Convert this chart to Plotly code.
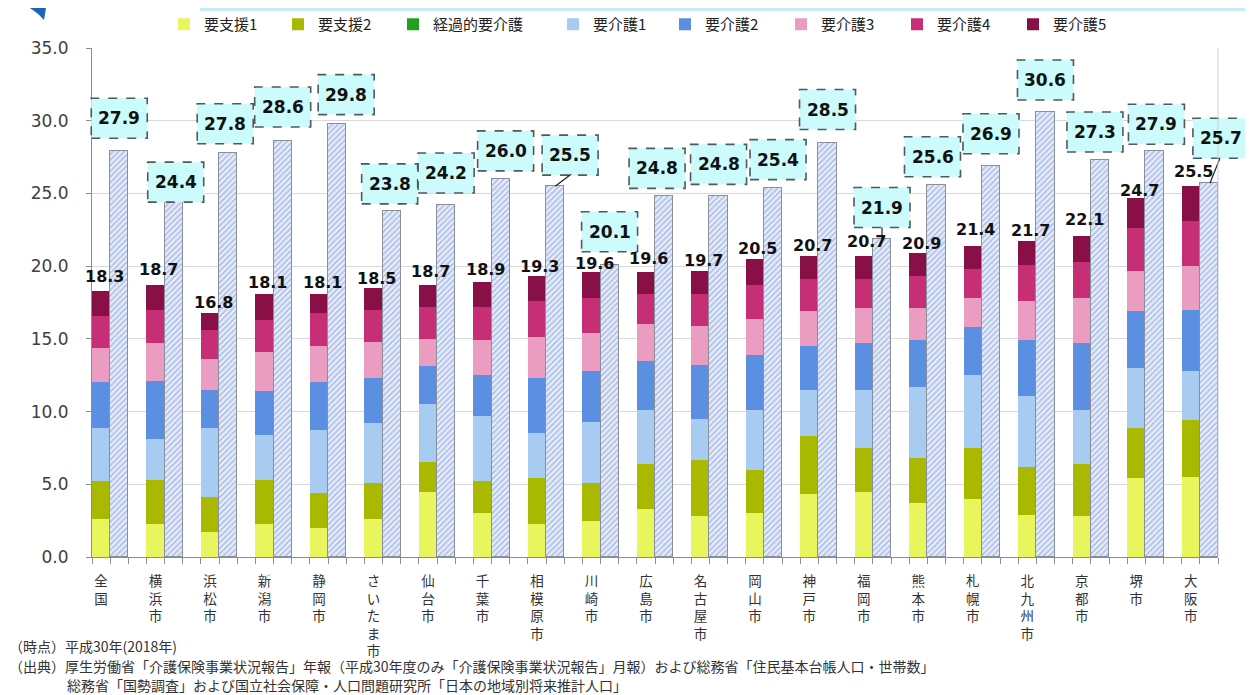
import plotly.graph_objects as go

# ---------------- data ----------------
cities = ["全国", "横浜市", "浜松市", "新潟市", "静岡市", "さいたま市", "仙台市", "千葉市",
          "相模原市", "川崎市", "広島市", "名古屋市", "岡山市", "神戸市", "福岡市", "熊本市",
          "札幌市", "北九州市", "京都市", "堺市", "大阪市"]

series_names = ["要支援1", "要支援2", "経過的要介護", "要介護1", "要介護2", "要介護3", "要介護4", "要介護5"]

shien1 = [2.6, 2.3, 1.7, 2.3, 2.0, 2.6, 4.5, 3.0, 2.3, 2.5, 3.3, 2.8, 3.0, 4.3, 4.5, 3.7, 4.0, 2.9, 2.8, 5.4, 5.5]
shien2 = [2.6, 3.0, 2.4, 3.0, 2.4, 2.5, 2.0, 2.2, 3.1, 2.6, 3.1, 3.9, 3.0, 4.0, 3.0, 3.1, 3.5, 3.3, 3.6, 3.5, 3.9]
keika  = [0.0, 0.0, 0.0, 0.0, 0.0, 0.0, 0.0, 0.0, 0.0, 0.0, 0.0, 0.0, 0.0, 0.0, 0.0, 0.0, 0.0, 0.0, 0.0, 0.0, 0.0]
kaigo1 = [3.7, 2.8, 4.8, 3.1, 4.3, 4.1, 4.0, 4.5, 3.1, 4.2, 3.7, 2.8, 4.1, 3.2, 4.0, 4.9, 5.0, 4.9, 3.7, 4.1, 3.4]
kaigo2 = [3.1, 4.0, 2.6, 3.0, 3.3, 3.1, 2.6, 2.8, 3.8, 3.5, 3.4, 3.7, 3.8, 3.0, 3.2, 3.2, 3.3, 3.8, 4.6, 3.9, 4.2]
kaigo3 = [2.4, 2.6, 2.1, 2.7, 2.5, 2.5, 1.9, 2.4, 2.8, 2.6, 2.5, 2.7, 2.5, 2.4, 2.4, 2.2, 2.0, 2.7, 3.1, 2.8, 3.0]
kaigo4 = [2.2, 2.3, 2.0, 2.2, 2.3, 2.2, 2.2, 2.3, 2.5, 2.4, 2.1, 2.2, 2.3, 2.2, 2.0, 2.2, 2.0, 2.5, 2.5, 2.9, 3.1]
kaigo5 = [1.7, 1.7, 1.2, 1.8, 1.3, 1.5, 1.5, 1.7, 1.7, 1.8, 1.5, 1.6, 1.8, 1.6, 1.6, 1.6, 1.6, 1.6, 1.8, 2.1, 2.4]

projected = [27.9, 24.4, 27.8, 28.6, 29.8, 23.8, 24.2, 26.0, 25.5, 20.1, 24.8, 24.8, 25.4, 28.5,
             21.9, 25.6, 26.9, 30.6, 27.3, 27.9, 25.7]

y_ticks = [0, 5, 10, 15, 20, 25, 30, 35]

footer_lines = [
    "（時点）平成30年(2018年)",
    "（出典）厚生労働省「介護保険事業状況報告」年報（平成30年度のみ「介護保険事業状況報告」月報）および総務省「住民基本台帳人口・世帯数」",
    "総務省「国勢調査」および国立社会保障・人口問題研究所「日本の地域別将来推計人口」",
]

# ---------------- styles / layout helpers ----------------
colors = ["#e9f55c", "#a9b900", "#1fa01f", "#a8cbf1", "#5b8fe2", "#eb9dc1", "#c62f76", "#891047"]
series = [shien1, shien2, keika, kaigo1, kaigo2, kaigo3, kaigo4, kaigo5]

# the page body has an 8px margin, so the figure sits at (8, 8) in the window
OFF = 8
W, H = 1253 - OFF, 695 - OFF
ML, MT = 92 - OFF, 48 - OFF
MR = W - (1218 - OFF)
MB = H - (557 - OFF)
PW, PH = W - ML - MR, H - MT - MB

def px(xp):  # page pixel -> paper x
    return (xp - OFF - ML) / PW

def py(yp):  # page pixel -> paper y
    return (H - MB - (yp - OFF)) / PH

n = len(cities)
NSLOT = 3 * n - 1                     # stacked, projected, gap ... (no trailing gap)
x_stack = [3 * i for i in range(n)]
x_proj = [3 * i + 1 for i in range(n)]
totals = [round(sum(s[i] for s in series), 1) for i in range(n)]

def xpaper(x):  # x-axis value -> paper x
    return (x + 0.5) / NSLOT

NUM_FONT = "DejaVu Sans"
JP_FONT = "Noto Sans CJK JP"

# legend square centres (page pixels)
legend_sq_x = [188, 302, 417, 577, 689, 805, 921, 1037]
LEG_OFF = 24

fig = go.Figure()
legend_layouts = {}
for k, (name, vals, col) in enumerate(zip(series_names, series, colors)):
    lname = "legend" if k == 0 else f"legend{k + 1}"
    fig.add_trace(go.Bar(
        x=x_stack, y=vals, name=name, width=1.0, legend=lname,
        marker=dict(color=col, line=dict(width=0)),
        hoverinfo="y+name",
    ))
    legend_layouts[lname] = dict(
        orientation="h", x=px(legend_sq_x[k] - LEG_OFF), xanchor="left",
        y=py(OFF), yanchor="top", bgcolor="rgba(0,0,0,0)",
        font=dict(family=JP_FONT, size=15, color="#222222"), itemwidth=30,
    )

fig.add_trace(go.Bar(
    x=x_proj, y=projected, width=1.0, showlegend=False, name="推計",
    marker=dict(color="#e6edf9",
                line=dict(color="#8a8f99", width=1),
                pattern=dict(shape="/", fgcolor="#7592d2", bgcolor="#e8eefa", size=4, solidity=0.45)),
))

# label offsets (pixels)
tot_dy = [14, 16, 10, 11, 11, 9, 14, 13, 10, 8, 13, 10, 10, 10, 14, 10, 16, 11, 16, 7, 15]
box_dy = [33, 20, 29, 34, 29, 27, 32, 28, 31, 33, 28, 32, 28, 33, 31, 28, 32, 32, 28, 27, 45]
box_dx = [0, 2, -3, 0, 9, -2, 0, 5, 15, 0, -7, 0, 5, 0, 0, -4, 0, 0, -5, 2, 12]
BW, BH = 56, 40

annotations = []
shapes = []
for i in range(n):
    annotations.append(dict(
        x=x_stack[i], y=totals[i], xref="x", yref="y", text=f"<b>{totals[i]:.1f}</b>",
        showarrow=False, yanchor="middle", xanchor="center", xshift=3, yshift=tot_dy[i],
        font=dict(family=NUM_FONT, size=16, color="#111111"),
    ))
    dx, dy = box_dx[i], box_dy[i]
    shapes.append(dict(
        type="rect", xref="paper", yref="y", xsizemode="pixel", ysizemode="pixel",
        xanchor=xpaper(x_proj[i]), yanchor=projected[i],
        x0=dx - BW / 2, x1=dx + BW / 2, y0=dy - BH / 2, y1=dy + BH / 2,
        fillcolor="#ccfbfb", line=dict(color="#4d5a5e", width=1.6, dash="dash"), layer="above",
    ))
    annotations.append(dict(
        x=x_proj[i], y=projected[i], xref="x", yref="y", text=f"<b>{projected[i]:.1f}</b>",
        showarrow=False, yanchor="middle", xanchor="center", xshift=dx, yshift=dy,
        font=dict(family=NUM_FONT, size=17, color="#111111"),
    ))

# leader lines (相模原, 福岡, 大阪)
leaders = {8: (0, 0, 16, 12), 14: (0, 0, 0, 11), 20: (1, 0, 11, 25)}
for i, (a0, b0, a1, b1) in leaders.items():
    shapes.append(dict(
        type="line", xref="paper", yref="y", xsizemode="pixel", ysizemode="pixel",
        xanchor=xpaper(x_proj[i]), yanchor=projected[i], x0=a0, x1=a1, y0=b0, y1=b1,
        line=dict(color="#222222", width=1.2), layer="above",
    ))

# plot-area right border and top decoration
shapes.append(dict(type="line", xref="paper", yref="paper", x0=1, x1=1, y0=0, y1=1,
                   line=dict(color="#d0d0d0", width=1)))
shapes.append(dict(type="line", xref="paper", yref="paper", x0=px(200), x1=px(1253), y0=py(9.5), y1=py(9.5),
                   line=dict(color="#c6ecf8", width=3)))
shapes.append(dict(type="path", xref="paper", yref="paper",
                   path=f"M {px(30)},{py(8)} L {px(46)},{py(8)} L {px(44)},{py(20)} Q {px(38)},{py(13)} {px(30)},{py(8)} Z",
                   fillcolor="#1d63b8", line=dict(width=0)))

# footer
footer_pos = [(8, 646), (8, 666), (66, 685)]
for txt, (fx, fy) in zip(footer_lines, footer_pos):
    annotations.append(dict(
        x=px(fx), y=py(fy), xref="paper", yref="paper", text=txt, showarrow=False,
        xanchor="left", yanchor="middle", font=dict(family=JP_FONT, size=14, color="#333333"),
        borderpad=0,
    ))

fig.update_layout(
    width=W, height=H,
    margin=dict(l=ML, r=MR, t=MT, b=MB, autoexpand=False),
    paper_bgcolor="white", plot_bgcolor="white",
    barmode="stack", bargap=0,
    font=dict(family=JP_FONT, color="#333333"),
    xaxis=dict(
        range=[-0.5, NSLOT - 0.5],
        tickmode="array", tickvals=x_stack,
        ticktext=["<br>".join(list(c)) for c in cities],
        ticks="", tickfont=dict(family=JP_FONT, size=13.5, color="#333333"),
        ticklabelstandoff=12, automargin=False,
        showline=True, linecolor="#8c8c8c", linewidth=1,
        showgrid=False, zeroline=False, fixedrange=True,
        minor=dict(tickmode="array", tickvals=[k - 0.5 for k in range(NSLOT + 1)],
                   ticks="outside", ticklen=6, tickcolor="#8c8c8c", showgrid=False),
    ),
    yaxis=dict(
        range=[0, 35], tickmode="array", tickvals=y_ticks, tickformat=".1f",
        tickfont=dict(family=NUM_FONT, size=17, color="#404040"),
        ticks="outside", ticklen=5, tickcolor="#8c8c8c", ticklabelstandoff=14, automargin=False,
        showline=True, linecolor="#8c8c8c", linewidth=1,
        showgrid=True, gridcolor="#d9d9d9", gridwidth=1, zeroline=False, fixedrange=True,
    ),
    shapes=shapes,
    annotations=annotations,
    **legend_layouts,
)

fig.write_html("out.html")
